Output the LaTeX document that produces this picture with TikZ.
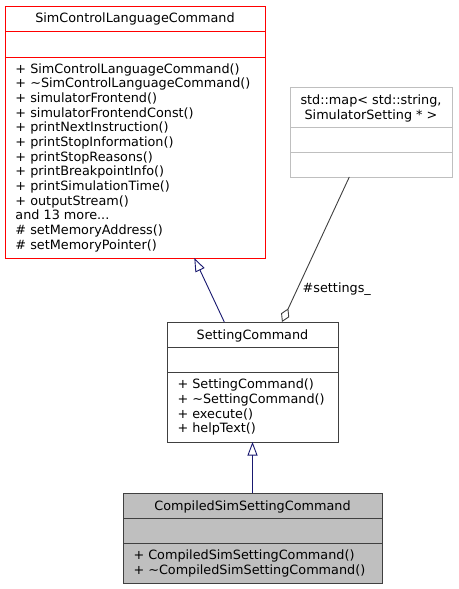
\documentclass[tikz,border=0pt]{standalone}
\usepackage{fontspec}
\setmainfont{DejaVu Sans}
\usetikzlibrary{arrows.meta}
\definecolor{mblue}{HTML}{191970}
\definecolor{gdark}{HTML}{404040}
\definecolor{glight}{HTML}{BFBFBF}
\begin{document}
\begin{tikzpicture}[x=1pt,y=-1pt,
  font=\fontsize{12.8}{14.67}\selectfont,
  box/.style={draw, anchor=north west, inner sep=0pt, outer sep=0pt, line width=1pt},
  txt/.style={inner sep=0pt, outer sep=0pt, align=left, anchor=north west},
  ttl/.style={inner sep=0pt, outer sep=0pt, anchor=base},
  inh/.style={draw=mblue, line width=0.9pt, -{Triangle[open, length=13.5pt, width=10pt]}},
  agg/.style={draw=gdark, line width=0.9pt, -{Diamond[open, length=15pt, width=9pt]}}]
\useasboundingbox[fill=white] (0,0) rectangle (458,589);

% SimControlLanguageCommand
\node[box, draw=red, minimum width=260pt, minimum height=252pt] (scl) at (5,6) {};
\draw[red, line width=1pt] ([yshift=-25.5pt]scl.north west) -- ([yshift=-25.5pt]scl.north east);
\draw[red, line width=1pt] ([yshift=-51pt]scl.north west) -- ([yshift=-51pt]scl.north east);
\node[ttl] (sclt) at (135,23) {SimControlLanguageCommand};
\node[txt] (sclm) at (15.5,61) {\rule{0pt}{12pt}+ SimControlLanguageCommand()\\
+ \textasciitilde SimControlLanguageCommand()\\
+ simulatorFrontend()\\
+ simulatorFrontendConst()\\
+ printNextInstruction()\\
+ printStopInformation()\\
+ printStopReasons()\\
+ printBreakpointInfo()\\
+ printSimulationTime()\\
+ outputStream()\\
and 13 more...\\
\# setMemoryAddress()\\
\# setMemoryPointer()};

% std::map
\node[box, draw=glight, minimum width=162pt, minimum height=90pt] (map) at (290,87) {};
\draw[glight, line width=1pt] ([yshift=-40pt]map.north west) -- ([yshift=-40pt]map.north east);
\draw[glight, line width=1pt] ([yshift=-65pt]map.north west) -- ([yshift=-65pt]map.north east);
\node[inner sep=0pt, outer sep=0pt, align=center, anchor=north] (mapt) at (371,92.5) {\rule{0pt}{12pt}std::map< std::string,\\ SimulatorSetting * >};

% SettingCommand
\node[box, draw=gdark, fill=white, minimum width=171pt, minimum height=120pt] (setc) at (167,322) {};
\draw[gdark, line width=1pt] ([yshift=-25pt]setc.north west) -- ([yshift=-25pt]setc.north east);
\draw[gdark, line width=1pt] ([yshift=-50pt]setc.north west) -- ([yshift=-50pt]setc.north east);
\node[ttl] (setct) at (252.5,339) {SettingCommand};
\node[txt] (setcm) at (177.5,376.7) {\rule{0pt}{12pt}+ SettingCommand()\\
+ \textasciitilde SettingCommand()\\
+ execute()\\
+ helpText()};

% CompiledSimSettingCommand
\node[box, draw=gdark, fill=glight, minimum width=259pt, minimum height=90pt] (cmp) at (123,493) {};
\draw[gdark, line width=1pt] ([yshift=-25pt]cmp.north west) -- ([yshift=-25pt]cmp.north east);
\draw[gdark, line width=1pt] ([yshift=-50pt]cmp.north west) -- ([yshift=-50pt]cmp.north east);
\node[ttl] (cmpt) at (252.5,510) {CompiledSimSettingCommand};
\node[txt] (cmpm) at (133.5,547.7) {\rule{0pt}{12pt}+ CompiledSimSettingCommand()\\
+ \textasciitilde CompiledSimSettingCommand()};

% connectors
\draw[inh] ([xshift=57.3pt]setc.north west) -- ([xshift=189.3pt]scl.south west);
\draw[inh] (cmp.north) -- (setc.south);
\draw[agg] ([xshift=59.3pt]map.south west) -- ([xshift=115pt]setc.north west);
\node[inner sep=0pt, anchor=base west] (lbl) at (302.5,292.7) {\#settings\_};
\end{tikzpicture}
\end{document}
